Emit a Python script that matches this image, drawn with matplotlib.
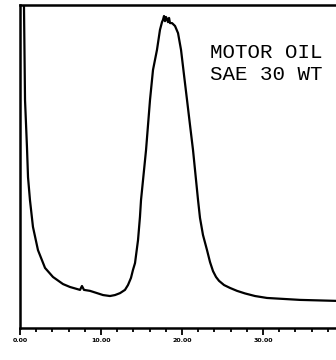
import matplotlib
matplotlib.use("Agg")
import matplotlib.pyplot as plt
from matplotlib.ticker import MultipleLocator, FixedLocator

# Retention time (min) and detector response (% of full scale)
time_min = [0.49, 0.62, 0.86, 0.99, 1.23, 1.60, 2.22, 3.09, 4.07, 5.31, 6.17, 7.41, 7.65,
            7.90, 8.64, 9.51, 10.25, 11.11, 11.73, 12.35, 12.96, 13.33, 13.70, 13.95,
            14.20, 14.57, 14.81, 14.94, 15.56,
            16.05, 16.42, 16.91, 17.28, 17.53, 17.65, 17.78, 17.90, 18.02, 18.15,
            18.27, 18.40, 18.52, 18.77, 19.14, 19.51, 19.88, 20.25, 20.62, 20.99,
            21.36, 21.98, 22.22, 22.59, 23.09, 23.46, 23.83, 24.20, 24.57, 25.19,
            25.93, 26.79, 27.78, 29.01, 30.49, 34.57, 39.01, 44.94]
response = [100.0, 70.6, 56.0, 46.7, 39.6, 31.3, 24.1, 18.6, 15.8, 13.6, 12.7, 11.8, 13.0,
            11.8, 11.5, 10.8, 10.2, 9.9, 10.2, 10.8, 11.8, 13.3, 15.5, 18.0,
            20.1, 27.2, 34.4, 39.6, 55.1,
            70.6, 79.9, 86.1, 92.3, 94.7, 95.4, 96.6, 95.0, 96.3, 95.7,
            94.7, 96.0, 94.4, 94.4, 93.5, 91.3, 86.1, 78.3, 70.6, 62.8,
            55.1, 39.6, 34.1, 28.8, 24.1, 20.4, 17.6, 15.8, 14.6, 13.3,
            12.4, 11.5, 10.7, 9.9, 9.3, 8.7, 8.4, 8.3]

major_ticks = [0, 10, 20, 30]
tick_labels = ["0.00", "10.00", "20.00", "30.00"]
label_lines = ["MOTOR OIL", "SAE 30 WT"]

W, H = 336, 360
fig = plt.figure(figsize=(W / 100, H / 100), dpi=100)
ax = fig.add_axes([20 / W, 32 / H, 364.5 / W, 323 / H])

ax.plot(time_min, response, color="black", lw=1.6, solid_joinstyle="round")
ax.set_xlim(0, 45)
ax.set_ylim(0, 100)

for s in ["left", "top", "bottom"]:
    ax.spines[s].set_linewidth(1.8)
ax.spines["right"].set_visible(False)

ax.yaxis.set_visible(False)
ax.xaxis.set_major_locator(FixedLocator(major_ticks))
ax.xaxis.set_minor_locator(MultipleLocator(2))
ax.set_xticklabels(tick_labels, fontsize=4.5, fontweight="bold")
ax.tick_params(axis="x", which="major", length=5, width=1.3, pad=2, direction="out")
ax.tick_params(axis="x", which="minor", length=3, width=1.3, direction="out")

fig.text(210 / W, 1 - 58 / H, label_lines[0], family="Liberation Mono",
         fontsize=15, va="baseline", ha="left")
fig.text(210 / W, 1 - 80 / H, label_lines[1], family="Liberation Mono",
         fontsize=15, va="baseline", ha="left")

fig.savefig("out.png", dpi=100)
